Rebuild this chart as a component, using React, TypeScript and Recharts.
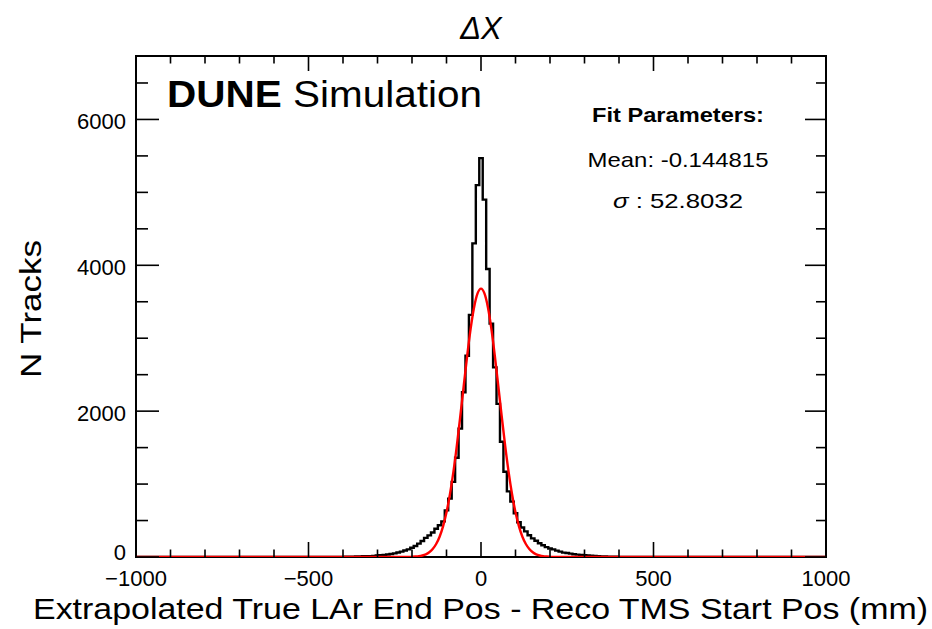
import React from "react";
import { ComposedChart, Line, XAxis, YAxis, ReferenceArea } from "recharts";

const X_MIN = -1000;
const X_MAX = 1000;
const Y_MAX = 6870;
const BIN_WIDTH = 10;
const FIRST_BIN_CENTER = -400;

// N tracks per 10 mm bin, centres from -400 to 400 mm
const trackCounts = [
  2, 4, 3, 5, 7, 6, 10, 12, 11, 16,
  20, 24, 29, 34, 41, 50, 62, 74, 90, 104,
  126, 150, 184, 220, 262, 296, 336, 388, 436, 488,
  640, 800, 1030, 1360, 1760, 2260, 2760, 3320, 4300, 5100,
  5470,
  4900, 3950, 3200, 2600, 2100, 1580, 1170, 900, 760, 600,
  476, 404, 352, 298, 256, 222, 188, 162, 136, 116,
  104, 88, 74, 60, 54, 46, 38, 33, 28, 25,
  21, 18, 15, 12, 9, 8, 5, 4, 3, 2,
];

// gaussian fit curve
const fitX = [
  -1000, -230, -220, -210, -200, -190, -180, -170, -160, -150, -140, -130, -120, -110,
  -100, -90, -80, -70, -60, -50, -40, -30, -20, -10, 0,
  10, 20, 30, 40, 50, 60, 70, 80, 90, 100,
  110, 120, 130, 140, 150, 160, 170, 180, 190, 200, 210, 220, 230, 1000,
];
const fitY = [
  0, 0, 1, 1, 3, 6, 11, 21, 37, 65, 109, 178, 278, 420,
  612, 861, 1168, 1528, 1930, 2350, 2762, 3132, 3425, 3614, 3680,
  3614, 3425, 3132, 2762, 2350, 1930, 1528, 1168, 861, 612,
  420, 278, 178, 109, 65, 37, 21, 11, 6, 3, 1, 1, 0, 0,
];

const xTicks = [
  -1000, -900, -800, -700, -600, -500, -400, -300, -200, -100, 0,
  100, 200, 300, 400, 500, 600, 700, 800, 900, 1000,
];
const xMajorTicks = [-1000, -500, 0, 500, 1000];
const xMajorLabels = ["\u22121000", "\u2212500", "0", "500", "1000"];

const yTicks = [0, 500, 1000, 1500, 2000, 2500, 3000, 3500, 4000, 4500, 5000, 5500, 6000, 6500];
const yMajorTicks = [0, 2000, 4000, 6000];
const yMajorLabels = ["0", "2000", "4000", "6000"];

const histData = [
  { x: X_MIN, y: 0 },
  { x: FIRST_BIN_CENTER - BIN_WIDTH, y: 0 },
  ...trackCounts.map((c, i) => ({ x: FIRST_BIN_CENTER + i * BIN_WIDTH, y: c })),
  { x: FIRST_BIN_CENTER + trackCounts.length * BIN_WIDTH, y: 0 },
  { x: X_MAX, y: 0 },
];
const fitData = fitX.map((x, i) => ({ x, y: fitY[i] }));

const FONT = '"Liberation Sans", Arial, Helvetica, sans-serif';
const W = 932;
const H = 629;
// axes are 1px wide/high, so the plot area is 136..826 x 56..557
const margin = { top: 55, right: 105, bottom: 71, left: 135 };

function BottomTick(props: any) {
  const { x, y, payload } = props;
  const idx = xMajorTicks.indexOf(payload.value);
  const major = idx >= 0;
  return (
    <g>
      <line x1={x} x2={x} y1={y} y2={y - (major ? 15 : 7.5)} stroke="#000" strokeWidth={1.6} />
      {major && (
        <text x={x} y={y + 29} textAnchor="middle" fontSize={22} fontFamily={FONT} fill="#000">
          {xMajorLabels[idx]}
        </text>
      )}
    </g>
  );
}

function TopTick(props: any) {
  const { x, y, payload } = props;
  const major = xMajorTicks.includes(payload.value);
  return <line x1={x} x2={x} y1={y} y2={y + (major ? 15 : 7.5)} stroke="#000" strokeWidth={1.6} />;
}

function LeftTick(props: any) {
  const { x, y, payload } = props;
  const idx = yMajorTicks.indexOf(payload.value);
  const major = idx >= 0;
  // the "0" label sits right above the "-1000" one, lift it a little
  const dy = payload.value === 0 ? -5 : 2;
  return (
    <g>
      <line x1={x} x2={x + (major ? 23 : 12)} y1={y} y2={y} stroke="#000" strokeWidth={1.6} />
      {major && (
        <text x={x - 10} y={y + dy} textAnchor="end" dominantBaseline="central" fontSize={22} fontFamily={FONT} fill="#000">
          {yMajorLabels[idx]}
        </text>
      )}
    </g>
  );
}

function RightTick(props: any) {
  const { x, y, payload } = props;
  const major = yMajorTicks.includes(payload.value);
  return <line x1={x} x2={x - (major ? 21 : 10)} y1={y} y2={y} stroke="#000" strokeWidth={1.6} />;
}

export default function App() {
  return (
    <div style={{ position: "absolute", left: 0, top: 0, width: W, height: H, background: "#fff" }}>
      <ComposedChart width={W} height={H} margin={margin}>
        <XAxis xAxisId="b" type="number" dataKey="x" domain={[X_MIN, X_MAX]} ticks={xTicks} interval={0}
          height={1} tickSize={0} tickMargin={0} axisLine={false} tickLine={false} tick={BottomTick} allowDataOverflow />
        <XAxis xAxisId="t" orientation="top" type="number" dataKey="x" domain={[X_MIN, X_MAX]} ticks={xTicks} interval={0}
          height={1} tickSize={0} tickMargin={0} axisLine={false} tickLine={false} tick={TopTick} allowDataOverflow />
        <YAxis yAxisId="l" type="number" domain={[0, Y_MAX]} ticks={yTicks} interval={0}
          width={1} tickSize={0} tickMargin={0} axisLine={false} tickLine={false} tick={LeftTick} allowDataOverflow />
        <YAxis yAxisId="r" orientation="right" type="number" domain={[0, Y_MAX]} ticks={yTicks} interval={0}
          width={1} tickSize={0} tickMargin={0} axisLine={false} tickLine={false} tick={RightTick} allowDataOverflow />
        <ReferenceArea xAxisId="b" yAxisId="l" x1={X_MIN} x2={X_MAX} y1={0} y2={Y_MAX}
          fill="none" stroke="#000" strokeWidth={2} ifOverflow="visible" />
        <Line xAxisId="b" yAxisId="l" data={histData} dataKey="y" type="step" stroke="#000"
          strokeWidth={2.4} dot={false} isAnimationActive={false} />
        <Line xAxisId="b" yAxisId="l" data={fitData} dataKey="y" type="monotone" stroke="#ff0000"
          strokeWidth={2.4} dot={false} isAnimationActive={false} />
      </ComposedChart>
      <svg width={W} height={H} style={{ position: "absolute", left: 0, top: 0, pointerEvents: "none" }}>
        <text x={481} y={39} textAnchor="middle" fontSize={31} fontStyle="italic" fontFamily={FONT}>
          ΔX
        </text>
        <text x={167} y={107} fontSize={37} fontFamily={FONT} textLength={315} lengthAdjust="spacingAndGlyphs">
          <tspan fontWeight="bold">DUNE</tspan>
          <tspan> Simulation</tspan>
        </text>
        <text x={678} y={122} textAnchor="middle" fontSize={20} fontWeight="bold" fontFamily={FONT}
          textLength={172} lengthAdjust="spacingAndGlyphs">
          Fit Parameters:
        </text>
        <text x={678} y={167} textAnchor="middle" fontSize={21} fontFamily={FONT}
          textLength={181} lengthAdjust="spacingAndGlyphs">
          Mean: -0.144815
        </text>
        <text x={678} y={208} textAnchor="middle" fontSize={21} fontFamily={FONT}
          textLength={130} lengthAdjust="spacingAndGlyphs">
          <tspan fontStyle="italic">σ</tspan>
          <tspan> : 52.8032</tspan>
        </text>
        <text x={33} y={619} fontSize={29} fontFamily={FONT} textLength={895} lengthAdjust="spacingAndGlyphs">
          Extrapolated True LAr End Pos - Reco TMS Start Pos (mm)
        </text>
        <text x={0} y={0} transform="translate(41,309) rotate(-90)" textAnchor="middle" fontSize={30}
          fontFamily={FONT} textLength={138} lengthAdjust="spacingAndGlyphs">
          N Tracks
        </text>
      </svg>
    </div>
  );
}
